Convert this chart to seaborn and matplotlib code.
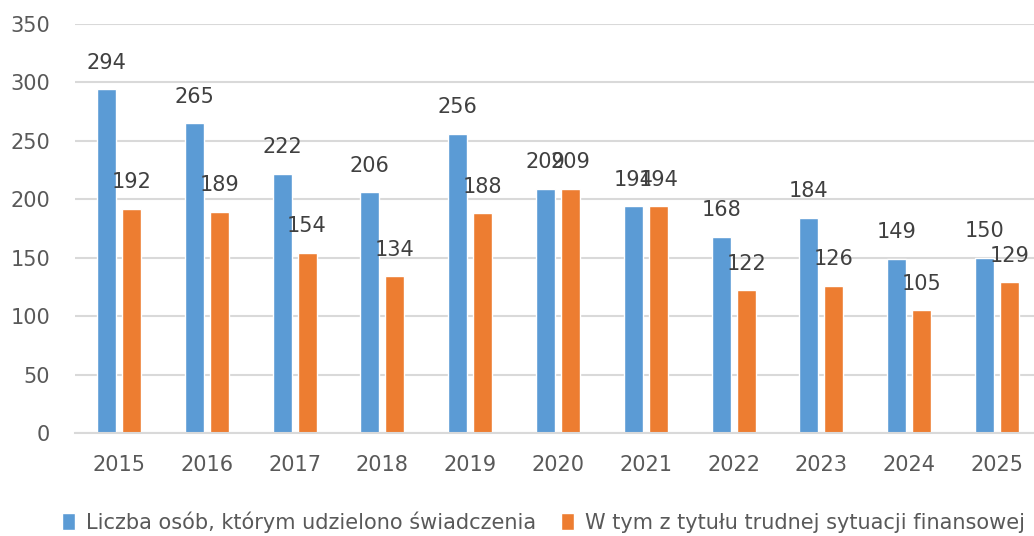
import pandas as pd
import numpy as np
import matplotlib.pyplot as plt
import seaborn as sns
from matplotlib.patches import Patch

# Data
years = ["2015", "2016", "2017", "2018", "2019", "2020", "2021", "2022", "2023", "2024", "2025"]
liczba_osob = [294, 265, 222, 206, 256, 209, 194, 168, 184, 149, 150]
trudna_sytuacja = [192, 189, 154, 134, 188, 209, 194, 122, 126, 105, 129]

series_names = ["Liczba osób, którym udzielono świadczenia",
                "W tym z tytułu trudnej sytuacji finansowej"]
colors = ["#5B9BD5", "#ED7D31"]
text_color = "#595959"

df = pd.DataFrame({
    "rok": years * 2,
    "wartosc": liczba_osob + trudna_sytuacja,
    "seria": [series_names[0]] * len(years) + [series_names[1]] * len(years),
})

sns.set_style("white")
plt.rcParams['font.family'] = ['DejaVu Sans']

fig = plt.figure(figsize=(10.34, 5.36), dpi=100)
# axes runs slightly past the right edge, like the cropped original
ax = fig.add_axes([75 / 1034, 103 / 536, 966 / 1034, 409 / 536])

sns.barplot(data=df, x="rok", y="wartosc", hue="seria", palette=colors,
            width=0.57, gap=0.24, ax=ax, legend=False, saturation=1)

# value labels
for cont in ax.containers:
    for bar in cont:
        h = bar.get_height()
        ax.annotate(f"{h:.0f}", (bar.get_x() + bar.get_width() / 2, h),
                    xytext=(0, 12), textcoords="offset points",
                    ha="center", va="bottom", fontsize=15, color="#404040")

ax.set_ylim(0, 350)
ax.set_xlim(-0.5, len(years) - 0.5)
ax.set_yticks(range(0, 351, 50))
ax.yaxis.grid(True, color="#D9D9D9", linewidth=1.5)
ax.set_axisbelow(True)
for s in ["top", "right", "left"]:
    ax.spines[s].set_visible(False)
ax.spines["bottom"].set_color("#D9D9D9")
ax.spines["bottom"].set_linewidth(1.5)
ax.tick_params(axis="both", length=0, labelsize=15, labelcolor=text_color)
ax.tick_params(axis="y", pad=18)
ax.tick_params(axis="x", pad=16)
ax.set_xlabel("")
ax.set_ylabel("")

handles = [Patch(facecolor=c, label=n) for c, n in zip(colors, series_names)]
fig.legend(handles=handles, loc="center", bbox_to_anchor=(0.526, 0.026), ncol=2,
           frameon=False, fontsize=15, labelcolor=text_color,
           handlelength=0.6, handleheight=0.9, handletextpad=0.55, columnspacing=1.2)

fig.savefig("out.png", dpi=100)
